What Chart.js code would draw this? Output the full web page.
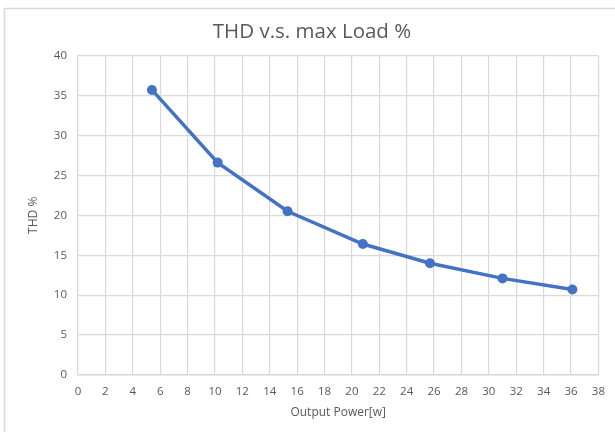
<!DOCTYPE html>
<html>
<head>
<meta charset="utf-8">
<script src="https://cdn.jsdelivr.net/npm/chart.js@4"></script>
<style>
  html, body { margin: 0; padding: 0; background: #fff; overflow: hidden; }
  canvas { display: block; }
</style>
</head>
<body>
<canvas id="chart" width="615" height="432"></canvas>
<script>
// values
const outputPower = [5.4, 10.2, 15.3, 20.8, 25.7, 31.0, 36.1];
const thdPercent = [35.7, 26.6, 20.5, 16.4, 14.0, 12.1, 10.7];
const xTickStep = 2;
const yTickStep = 5;

const TEXT = "#595959";
const GRID = "#d9d9d9";
const BLUE = "#4472c4";
const FONT = "'Open Sans', sans-serif";

// white background with the light grey chart-object frame (cropped at right/bottom)
const framePlugin = {
  id: "frame",
  beforeDraw(chart) {
    const ctx = chart.ctx;
    ctx.save();
    ctx.fillStyle = "#fff";
    ctx.fillRect(0, 0, chart.width, chart.height);
    ctx.strokeStyle = GRID;
    ctx.lineWidth = 1.5;
    ctx.strokeRect(4.5, 8.5, chart.width + 20, chart.height + 20);
    ctx.restore();
  }
};

new Chart(document.getElementById("chart").getContext("2d"), {
  type: "line",
  data: {
    datasets: [
      {
        label: "THD",
        data: outputPower.map((x, i) => ({ x, y: thdPercent[i] })),
        borderColor: BLUE,
        backgroundColor: BLUE,
        borderWidth: 3.5,
        pointRadius: 5,
        pointBorderWidth: 0,
        pointBackgroundColor: BLUE,
        tension: 0
      }
    ]
  },
  options: {
    responsive: false,
    animation: false,
    layout: { padding: { left: 24, right: 15, top: 0, bottom: 0 } },
    plugins: {
      legend: { display: false },
      tooltip: { enabled: false },
      title: {
        display: true,
        text: "THD v.s. max Load %",
        color: TEXT,
        font: { family: FONT, size: 20.5, weight: "normal" },
        padding: { top: 20, bottom: 11 }
      }
    },
    scales: {
      x: {
        type: "linear",
        min: 0,
        max: 38,
        afterFit: (scale) => { scale.height = 57; },
        ticks: { stepSize: xTickStep, color: TEXT, padding: 10, font: { family: FONT, size: 11.5 } },
        grid: { color: GRID, drawTicks: false, lineWidth: 1.2 },
        border: { color: GRID, width: 1.5 },
        title: {
          display: true,
          text: "Output Power[w]",
          color: TEXT,
          font: { family: FONT, size: 12 },
          padding: { top: 0, bottom: 12 }
        }
      },
      y: {
        min: 0,
        max: 40,
        afterFit: (scale) => { scale.width = 54; },
        ticks: { stepSize: yTickStep, color: TEXT, padding: 11, font: { family: FONT, size: 11.5 } },
        grid: { color: GRID, drawTicks: false, lineWidth: 1.2 },
        border: { color: GRID, width: 1.2 },
        title: {
          display: true,
          text: "THD %",
          color: TEXT,
          font: { family: FONT, size: 12 },
          padding: { top: 2, bottom: 0 }
        }
      }
    }
  },
  plugins: [framePlugin]
});
</script>
</body>
</html>
